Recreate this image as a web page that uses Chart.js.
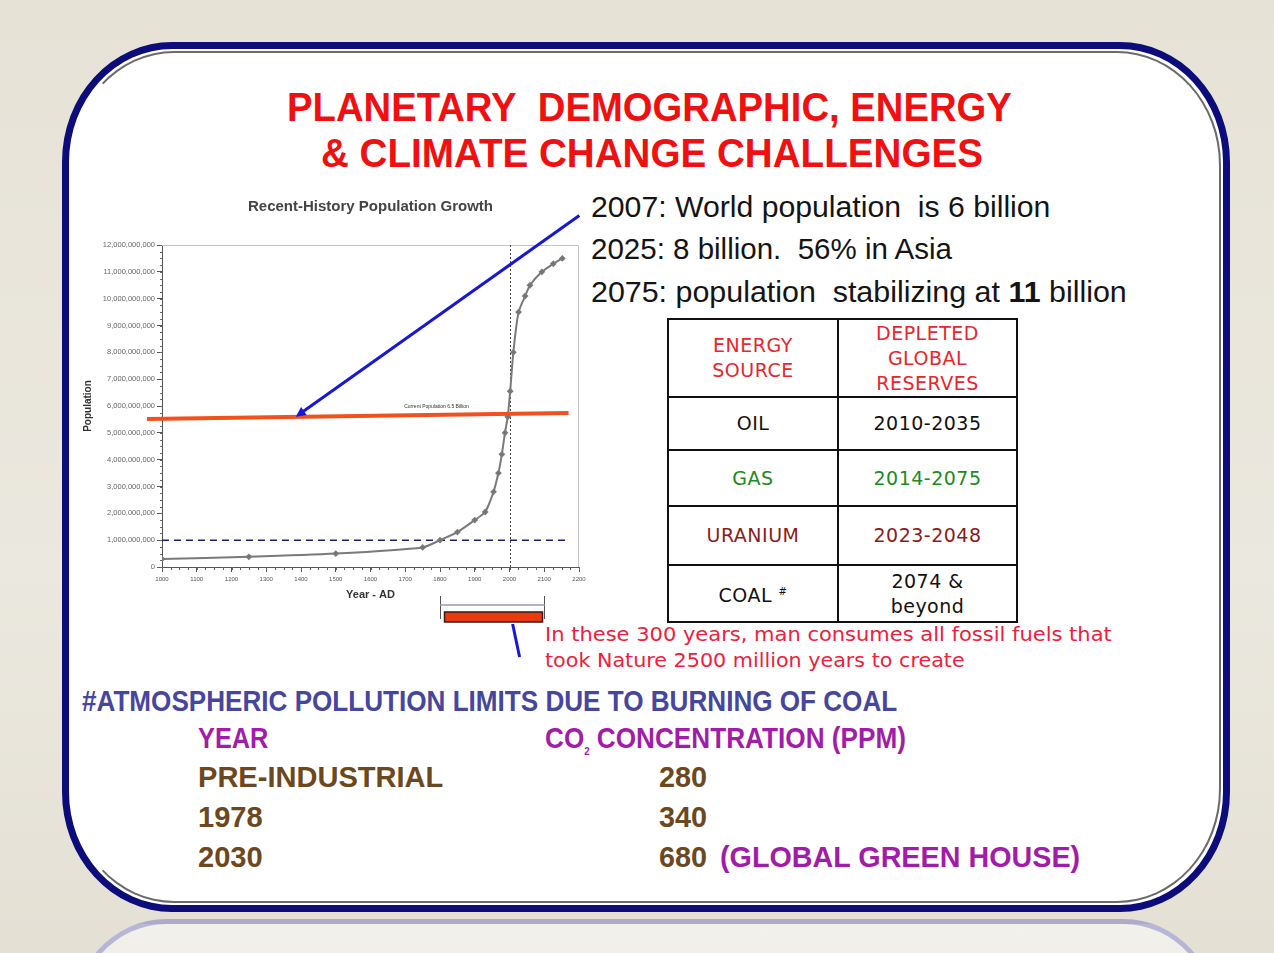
<html lang="en">
<head>
    <meta charset="UTF-8">
    <title>Planetary Demographic, Energy & Climate Change Challenges</title>
    <script src="https://cdn.jsdelivr.net/npm/chart.js"></script>
    <style>
        html, body {
            margin: 0;
            padding: 0;
            width: 1274px;
            height: 953px;
            overflow: hidden;
            background: linear-gradient(180deg, #e6e2d6 0%, #ebe8df 60%, #e4e0d4 100%);
            font-family: "Liberation Sans", Arial, sans-serif;
        }
        .frame {
            position: absolute;
            left: 62px;
            top: 42px;
            width: 1154px;
            height: 856px;
            border: 7px solid #0c0c7a;
            border-radius: 110px / 120px;
            background: #fff;
        }
        .inner-ring {
            position: absolute;
            left: 1px; top: 2px; right: 2px; bottom: 2px;
            border: 2px solid #6a6a6a;
            border-left-color: transparent;
            border-radius: 104px / 114px;
        }
        .reflection {
            position: absolute;
            left: 70px;
            top: 919px;
            width: 1140px;
            height: 200px;
            border: 5px solid rgba(60, 60, 170, 0.32);
            border-radius: 110px / 120px;
            background: linear-gradient(180deg, rgba(255,255,255,0.55), rgba(255,255,255,0));
        }
        .t {
            position: absolute;
            white-space: nowrap;
            transform-origin: left center;
        }
        .title { font-size: 40px; line-height: 40px; font-weight: bold; color: #f01010; }
        .fact { font-size: 30px; line-height: 30px; color: #141414; }
        .note { font-family: "DejaVu Sans", Verdana, sans-serif; font-size: 19px; line-height: 19px; color: #f0203c; }
        .low { font-size: 30px; line-height: 30px; font-weight: bold; }
        .blue { color: #46469e; }
        .purple { color: #a11ca8; }
        .brown { color: #6c4820; }
        #chart-box {
            position: absolute;
            left: 78px;
            top: 192px;
            width: 520px;
            height: 470px;
        }
        table.energy {
            position: absolute;
            left: 667px;
            top: 318px;
            width: 351px;
            border-collapse: collapse;
            font-family: "DejaVu Sans", Verdana, sans-serif;
            font-size: 19px;
            letter-spacing: 0.5px;
        }
        table.energy td {
            border: 2px solid #111;
            text-align: center;
            padding: 0;
            line-height: 25px;
        }
        table.energy sup { font-size: 10px; }
    </style>
</head>
<body>
    <div class="frame"><div class="inner-ring"></div></div>
    <div class="reflection"></div>

    <div class="t title" style="left:287px; top:87px" data-w="725">PLANETARY&nbsp; DEMOGRAPHIC, ENERGY</div>
    <div class="t title" style="left:321px; top:133px" data-w="662">&amp; CLIMATE CHANGE CHALLENGES</div>

    <div class="t fact" style="left:591px; top:192px" data-w="459">2007: World population&nbsp; is 6 billion</div>
    <div class="t fact" style="left:591px; top:234px" data-w="361">2025: 8 billion.&nbsp; 56% in Asia</div>
    <div class="t fact" style="left:591px; top:277px" data-w="536">2075: population&nbsp; stabilizing at <b>11</b> billion</div>

    <table class="energy" id="energy-table"></table>

    <div class="t note" style="left:545px; top:625px" data-w="567">In these 300 years, man consumes all fossil fuels that</div>
    <div class="t note" style="left:545px; top:651px" data-w="420">took Nature 2500 million years to create</div>

    <div class="t low blue" style="left:82px; top:686px" data-w="815">#ATMOSPHERIC POLLUTION LIMITS DUE TO BURNING OF COAL</div>
    <div class="t low purple" style="left:198px; top:723px" data-w="70">YEAR</div>
    <div class="t low purple" style="left:545px; top:723px" data-w="361">CO<sub style="font-size:11px">2</sub> CONCENTRATION (PPM)</div>
    <div class="t low brown" style="left:198px; top:762px" data-w="245">PRE-INDUSTRIAL</div>
    <div class="t low brown" style="left:659px; top:762px" data-w="48">280</div>
    <div class="t low brown" style="left:198px; top:802px" data-w="65">1978</div>
    <div class="t low brown" style="left:659px; top:802px" data-w="48">340</div>
    <div class="t low brown" style="left:198px; top:842px" data-w="65">2030</div>
    <div class="t low brown" style="left:659px; top:842px" data-w="48">680</div>
    <div class="t low purple" style="left:720px; top:842px" data-w="360">(GLOBAL GREEN HOUSE)</div>

    <div id="chart-box">
        <canvas id="popChart"></canvas>
    </div>

    <script>
        // population curve (billions)
        const years = [1000, 1250, 1500, 1750, 1800, 1850, 1900, 1930, 1954, 1968, 1978, 1987, 1995, 2002, 2011, 2026, 2045, 2059, 2093, 2126, 2152];
        const population = [0.30, 0.38, 0.50, 0.73, 1.0, 1.3, 1.75, 2.05, 2.8, 3.5, 4.2, 5.0, 5.6, 6.55, 8.0, 9.5, 10.1, 10.5, 11.0, 11.3, 11.5];

        // red "current population" line laid over the chart
        const redLineYears = [957, 2170];
        const redLinePop = [5.52, 5.74];

        // blue pointer arrow (from the text to the red line)
        const arrowYears = [2201, 1385];
        const arrowPop = [13.1, 5.6];

        const oneBillionLine = 1.0;
        const nowYear = 2000;
        const fossilSpan = [1800, 2100];
        const fossilBar = [1813, 2095];

        const energySources = ['OIL', 'GAS', 'URANIUM', 'COAL'];
        const depletion = ['2010-2035', '2014-2075', '2023-2048', '2074 &amp;<br>beyond'];
        const energyColors = ['#111', '#1f8a22', '#8a1c1c', '#111'];

        // build the table
        const rowHeights = [53, 56, 59, 57];
        let html = '<tr style="height:78px"><td style="width:168px;color:#e8262e">ENERGY<br>SOURCE</td>' +
                   '<td style="color:#e8262e">DEPLETED<br>GLOBAL<br>RESERVES</td></tr>';
        energySources.forEach((s, i) => {
            const name = s === 'COAL' ? 'COAL <sup>#</sup>' : s;
            html += `<tr style="height:${rowHeights[i]}px"><td style="color:${energyColors[i]}">${name}</td>` +
                    `<td style="color:${energyColors[i]}">${depletion[i]}</td></tr>`;
        });
        document.getElementById('energy-table').innerHTML = html;

        // squeeze text to slide widths
        document.querySelectorAll('[data-w]').forEach(el => {
            el.style.transform = `scaleX(${el.dataset.w / el.offsetWidth})`;
        });

        function fmt(v) {
            return Math.round(v * 1e9).toString().replace(/\B(?=(\d{3})+(?!\d))/g, ',');
        }

        const overlay = {
            id: 'overlay',
            beforeDatasetsDraw(chart) {
                const {ctx, chartArea: a, scales: {x, y}} = chart;
                ctx.save();
                // light frame top / right
                ctx.strokeStyle = '#c4c4c4';
                ctx.lineWidth = 1;
                ctx.beginPath();
                ctx.moveTo(a.left, a.top + 0.5);
                ctx.lineTo(a.right - 0.5, a.top + 0.5);
                ctx.lineTo(a.right - 0.5, a.bottom);
                ctx.stroke();

                // minor ticks
                ctx.strokeStyle = '#666';
                ctx.beginPath();
                for (let yr = 1000; yr <= 2200; yr += 25) {
                    const px = Math.round(x.getPixelForValue(yr)) + 0.5;
                    ctx.moveTo(px, a.bottom);
                    ctx.lineTo(px, a.bottom + 3);
                }
                for (let p = 0; p <= 12; p += 0.25) {
                    const py = Math.round(y.getPixelForValue(p)) + 0.5;
                    ctx.moveTo(a.left - 2, py);
                    ctx.lineTo(a.left, py);
                }
                ctx.stroke();

                // dotted "now" line
                ctx.strokeStyle = '#444';
                ctx.setLineDash([2, 2]);
                const nx = Math.round(x.getPixelForValue(nowYear)) + 0.5;
                ctx.beginPath();
                ctx.moveTo(nx, a.top);
                ctx.lineTo(nx, a.bottom);
                ctx.stroke();

                // dashed 1 billion line
                ctx.strokeStyle = '#1c1c70';
                ctx.lineWidth = 1.5;
                ctx.setLineDash([7, 5]);
                const by = y.getPixelForValue(oneBillionLine);
                ctx.beginPath();
                ctx.moveTo(a.left, by);
                ctx.lineTo(x.getPixelForValue(2172), by);
                ctx.stroke();
                ctx.restore();
            },
            afterDatasetsDraw(chart) {
                const {ctx, chartArea: a, scales: {x, y}} = chart;
                ctx.save();

                // tiny label on the red line
                ctx.fillStyle = '#333';
                ctx.font = '5px "Liberation Sans", Arial';
                ctx.textAlign = 'center';
                ctx.fillText('Current Population 6.5 Billion', x.getPixelForValue(1790), y.getPixelForValue(5.93));

                // blue arrow
                const x0 = x.getPixelForValue(arrowYears[0]), y0 = y.getPixelForValue(arrowPop[0]);
                const x1 = x.getPixelForValue(arrowYears[1]), y1 = y.getPixelForValue(arrowPop[1]);
                const ang = Math.atan2(y1 - y0, x1 - x0);
                ctx.strokeStyle = '#1717d8';
                ctx.fillStyle = '#1717d8';
                ctx.lineWidth = 3;
                ctx.beginPath();
                ctx.moveTo(x0, y0);
                ctx.lineTo(x1 - 6 * Math.cos(ang), y1 - 6 * Math.sin(ang));
                ctx.stroke();
                ctx.beginPath();
                ctx.moveTo(x1, y1);
                ctx.lineTo(x1 - 11 * Math.cos(ang - 0.45), y1 - 11 * Math.sin(ang - 0.45));
                ctx.lineTo(x1 - 11 * Math.cos(ang + 0.45), y1 - 11 * Math.sin(ang + 0.45));
                ctx.closePath();
                ctx.fill();

                // bracket under the axis for the fossil era
                const bx0 = Math.round(x.getPixelForValue(fossilSpan[0])) + 0.5;
                const bx1 = Math.round(x.getPixelForValue(fossilSpan[1])) + 0.5;
                ctx.strokeStyle = '#555';
                ctx.lineWidth = 1;
                ctx.beginPath();
                ctx.moveTo(bx0, a.bottom + 29); ctx.lineTo(bx0, a.bottom + 52);
                ctx.moveTo(bx1, a.bottom + 29); ctx.lineTo(bx1, a.bottom + 52);
                ctx.stroke();
                ctx.strokeStyle = '#b8aed0';
                ctx.lineWidth = 2;
                ctx.beginPath();
                ctx.moveTo(bx0, a.bottom + 38); ctx.lineTo(bx1, a.bottom + 38);
                ctx.stroke();

                // red bar
                const rx0 = x.getPixelForValue(fossilBar[0]);
                const rx1 = x.getPixelForValue(fossilBar[1]);
                ctx.fillStyle = '#ea3a0e';
                ctx.fillRect(rx0, a.bottom + 45, rx1 - rx0, 10);
                ctx.strokeStyle = '#3a1a10';
                ctx.lineWidth = 1.5;
                ctx.strokeRect(rx0, a.bottom + 45, rx1 - rx0, 10);

                // blue pointer from bar to the note
                ctx.strokeStyle = '#1717d8';
                ctx.lineWidth = 3;
                ctx.beginPath();
                ctx.moveTo(x.getPixelForValue(2009), a.bottom + 57);
                ctx.lineTo(x.getPixelForValue(2029), a.bottom + 90);
                ctx.stroke();
                ctx.restore();
            }
        };

        new Chart(document.getElementById('popChart'), {
            type: 'line',
            data: {
                datasets: [{
                    label: 'Current population',
                    data: redLineYears.map((yr, i) => ({x: yr, y: redLinePop[i]})),
                    borderColor: '#f2501c',
                    borderWidth: 4,
                    pointRadius: 0,
                    clip: false,
                    order: 0
                }, {
                    label: 'Population',
                    data: years.map((yr, i) => ({x: yr, y: population[i]})),
                    borderColor: '#7a7a7a',
                    backgroundColor: '#5e5e5e',
                    borderWidth: 2,
                    pointRadius: 2,
                    pointStyle: 'rectRot',
                    tension: 0.2,
                    order: 1
                }]
            },
            options: {
                responsive: true,
                maintainAspectRatio: false,
                animation: false,
                layout: {padding: {left: 4, right: 19, top: 0, bottom: 60}},
                plugins: {
                    legend: {display: false},
                    tooltip: {enabled: false},
                    title: {
                        display: true,
                        fullSize: false,
                        text: 'Recent-History Population Growth',
                        color: '#444',
                        font: {family: '"Liberation Sans", Arial', size: 15, weight: 'bold'},
                        padding: {top: 6, bottom: 29}
                    }
                },
                scales: {
                    x: {
                        type: 'linear',
                        min: 1000,
                        max: 2200,
                        ticks: {stepSize: 100, color: '#555', font: {size: 6}, padding: 4, callback: v => String(v)},
                        grid: {drawOnChartArea: false, tickLength: 5, color: '#555'},
                        border: {color: '#555'},
                        title: {display: true, text: 'Year - AD', color: '#333',
                                font: {family: '"Liberation Sans", Arial', size: 11, weight: 'bold'}, padding: 0},
                        afterFit: s => { s.height = 35; }
                    },
                    y: {
                        min: 0,
                        max: 12,
                        ticks: {stepSize: 1, color: '#666', font: {size: 7.5}, padding: 2, callback: v => fmt(v)},
                        grid: {drawOnChartArea: false, tickLength: 5, color: '#555'},
                        border: {color: '#555'},
                        title: {display: true, text: 'Population', color: '#333',
                                font: {family: '"Liberation Sans", Arial', size: 10, weight: 'bold'}, padding: 0},
                        afterFit: s => { s.width = 80; }
                    }
                }
            },
            plugins: [overlay]
        });
    </script>
</body>
</html>
